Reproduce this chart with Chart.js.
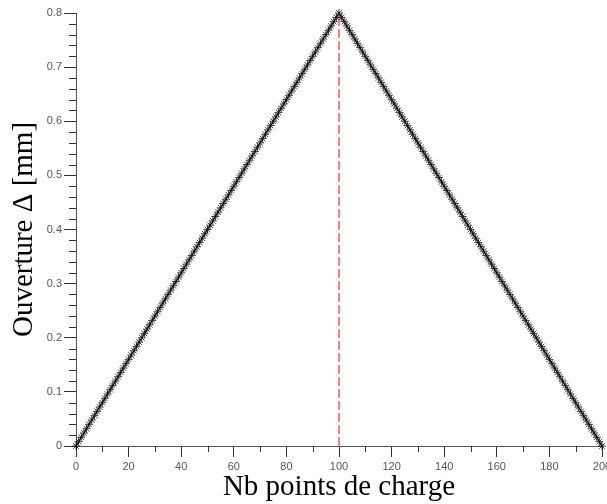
<!DOCTYPE html>
<html lang="fr">
<head>
<meta charset="utf-8">
<title>Ouverture</title>
<script src="https://cdn.jsdelivr.net/npm/chart.js"></script>
<style>
  html, body { margin: 0; padding: 0; background: #fff; overflow: hidden; }
  #wrap { width: 607px; height: 504px; position: relative; }
</style>
</head>
<body>
<div id="wrap"><canvas id="lineChart"></canvas></div>
<script>
// Numéro du point de charge
const pointNumbers = [
  0, 1, 2, 3, 4, 5, 6, 7, 8, 9, 10, 11, 12, 13, 14, 15, 16, 17, 18, 19,
  20, 21, 22, 23, 24, 25, 26, 27, 28, 29, 30, 31, 32, 33, 34, 35, 36, 37, 38, 39,
  40, 41, 42, 43, 44, 45, 46, 47, 48, 49, 50, 51, 52, 53, 54, 55, 56, 57, 58, 59,
  60, 61, 62, 63, 64, 65, 66, 67, 68, 69, 70, 71, 72, 73, 74, 75, 76, 77, 78, 79,
  80, 81, 82, 83, 84, 85, 86, 87, 88, 89, 90, 91, 92, 93, 94, 95, 96, 97, 98, 99,
  100, 101, 102, 103, 104, 105, 106, 107, 108, 109, 110, 111, 112, 113, 114, 115, 116, 117, 118, 119,
  120, 121, 122, 123, 124, 125, 126, 127, 128, 129, 130, 131, 132, 133, 134, 135, 136, 137, 138, 139,
  140, 141, 142, 143, 144, 145, 146, 147, 148, 149, 150, 151, 152, 153, 154, 155, 156, 157, 158, 159,
  160, 161, 162, 163, 164, 165, 166, 167, 168, 169, 170, 171, 172, 173, 174, 175, 176, 177, 178, 179,
  180, 181, 182, 183, 184, 185, 186, 187, 188, 189, 190, 191, 192, 193, 194, 195, 196, 197, 198, 199,
  200
];

// Ouverture (mm) : montée puis descente
const ouvertureCharge = [
  0, 0.008, 0.016, 0.024, 0.032, 0.04, 0.048, 0.056, 0.064, 0.072,
  0.08, 0.088, 0.096, 0.104, 0.112, 0.12, 0.128, 0.136, 0.144, 0.152,
  0.16, 0.168, 0.176, 0.184, 0.192, 0.2, 0.208, 0.216, 0.224, 0.232,
  0.24, 0.248, 0.256, 0.264, 0.272, 0.28, 0.288, 0.296, 0.304, 0.312,
  0.32, 0.328, 0.336, 0.344, 0.352, 0.36, 0.368, 0.376, 0.384, 0.392,
  0.4, 0.408, 0.416, 0.424, 0.432, 0.44, 0.448, 0.456, 0.464, 0.472,
  0.48, 0.488, 0.496, 0.504, 0.512, 0.52, 0.528, 0.536, 0.544, 0.552,
  0.56, 0.568, 0.576, 0.584, 0.592, 0.6, 0.608, 0.616, 0.624, 0.632,
  0.64, 0.648, 0.656, 0.664, 0.672, 0.68, 0.688, 0.696, 0.704, 0.712,
  0.72, 0.728, 0.736, 0.744, 0.752, 0.76, 0.768, 0.776, 0.784, 0.792,
  0.8
];
const ouvertureDecharge = [
  0.792, 0.784, 0.776, 0.768, 0.76, 0.752, 0.744, 0.736, 0.728, 0.72,
  0.712, 0.704, 0.696, 0.688, 0.68, 0.672, 0.664, 0.656, 0.648, 0.64,
  0.632, 0.624, 0.616, 0.608, 0.6, 0.592, 0.584, 0.576, 0.568, 0.56,
  0.552, 0.544, 0.536, 0.528, 0.52, 0.512, 0.504, 0.496, 0.488, 0.48,
  0.472, 0.464, 0.456, 0.448, 0.44, 0.432, 0.424, 0.416, 0.408, 0.4,
  0.392, 0.384, 0.376, 0.368, 0.36, 0.352, 0.344, 0.336, 0.328, 0.32,
  0.312, 0.304, 0.296, 0.288, 0.28, 0.272, 0.264, 0.256, 0.248, 0.24,
  0.232, 0.224, 0.216, 0.208, 0.2, 0.192, 0.184, 0.176, 0.168, 0.16,
  0.152, 0.144, 0.136, 0.128, 0.12, 0.112, 0.104, 0.096, 0.088, 0.08,
  0.072, 0.064, 0.056, 0.048, 0.04, 0.032, 0.024, 0.016, 0.008, 0
];

// Ligne verticale au pic
const peakX = [100, 100];
const peakY = [0, 0.8];

const xTickLabels = [0, 20, 40, 60, 80, 100, 120, 140, 160, 180, 200];
const yTickLabels = [0, 0.1, 0.2, 0.3, 0.4, 0.5, 0.6, 0.7, 0.8];

const ouverture = ouvertureCharge.concat(ouvertureDecharge);
const isLabel = (list, v) => list.some(t => Math.abs(t - v) < 1e-6);

// petites graduations (plus courtes) entre les graduations principales
const minorTicks = {
  id: 'minorTicks',
  afterDraw(chart) {
    const ctx = chart.ctx;
    const xs = chart.scales.x;
    const ys = chart.scales.y;
    ctx.save();
    ctx.strokeStyle = '#333';
    ctx.lineWidth = 1;
    ctx.beginPath();
    xs.ticks.forEach(t => {
      if (isLabel(xTickLabels, t.value)) return;
      const px = Math.round(xs.getPixelForValue(t.value)) + 0.5;
      ctx.moveTo(px, xs.top);
      ctx.lineTo(px, xs.top + 6);
    });
    ys.ticks.forEach(t => {
      if (isLabel(yTickLabels, t.value)) return;
      const py = Math.round(ys.getPixelForValue(t.value)) + 0.5;
      ctx.moveTo(ys.right, py);
      ctx.lineTo(ys.right - 7, py);
    });
    ctx.stroke();
    ctx.restore();
  }
};

const tickFont = { family: '"Liberation Sans", Arial, sans-serif', size: 11 };
const titleFont = { family: '"Liberation Serif", "Times New Roman", serif', size: 29, lineHeight: 1 };

new Chart(document.getElementById('lineChart'), {
  type: 'line',
  data: {
    datasets: [
      {
        label: 'Ouverture',
        data: pointNumbers.map((n, i) => ({ x: n, y: ouverture[i] })),
        borderColor: '#000',
        borderWidth: 1,
        pointStyle: 'star',
        pointRadius: 4,
        pointBorderColor: 'rgba(0,0,0,0.75)',
        pointBorderWidth: 1,
        pointBackgroundColor: 'transparent',
        tension: 0,
        clip: false,
        order: 2
      },
      {
        label: 'Pic',
        data: peakX.map((x, i) => ({ x, y: peakY[i] })),
        borderColor: '#ff0000',
        borderWidth: 1,
        borderDash: [9, 3],
        pointRadius: 0,
        order: 1
      }
    ]
  },
  options: {
    responsive: true,
    maintainAspectRatio: false,
    animation: false,
    layout: { padding: { top: 13, right: 4, left: 0, bottom: 0 } },
    plugins: {
      legend: { display: false },
      tooltip: { enabled: false }
    },
    scales: {
      x: {
        type: 'linear',
        min: 0,
        max: 200,
        border: { display: true, color: '#555', width: 1 },
        grid: {
          drawOnChartArea: false,
          tickLength: 11,
          tickColor: c => (c.tick && isLabel(xTickLabels, c.tick.value)) ? '#333' : 'transparent'
        },
        ticks: {
          stepSize: 10,
          autoSkip: false,
          maxRotation: 0,
          padding: 3,
          color: '#555',
          font: tickFont,
          callback: v => isLabel(xTickLabels, v) ? String(Math.round(v)) : ''
        },
        title: {
          display: true,
          text: 'Nb points de charge',
          color: '#000',
          font: titleFont,
          padding: { top: 0, bottom: 2 }
        },
        afterFit(scale) {
          scale.height = 58;
          scale.paddingLeft = 0;
          scale.paddingRight = 0;
        }
      },
      y: {
        min: 0,
        max: 0.8,
        border: { display: true, color: '#555', width: 1 },
        grid: {
          drawOnChartArea: false,
          tickLength: 12,
          tickColor: c => (c.tick && isLabel(yTickLabels, c.tick.value)) ? '#333' : 'transparent'
        },
        ticks: {
          stepSize: 0.02,
          autoSkip: false,
          padding: 2,
          color: '#555',
          font: tickFont,
          callback: v => isLabel(yTickLabels, v) ? String(Math.round(v * 10) / 10) : ''
        },
        title: {
          display: true,
          text: 'Ouverture \u0394 [mm]',
          color: '#000',
          font: titleFont,
          padding: { top: 10, bottom: 0 }
        },
        afterFit(scale) {
          scale.width = 76;
        }
      }
    }
  },
  plugins: [minorTicks]
});
</script>
</body>
</html>
